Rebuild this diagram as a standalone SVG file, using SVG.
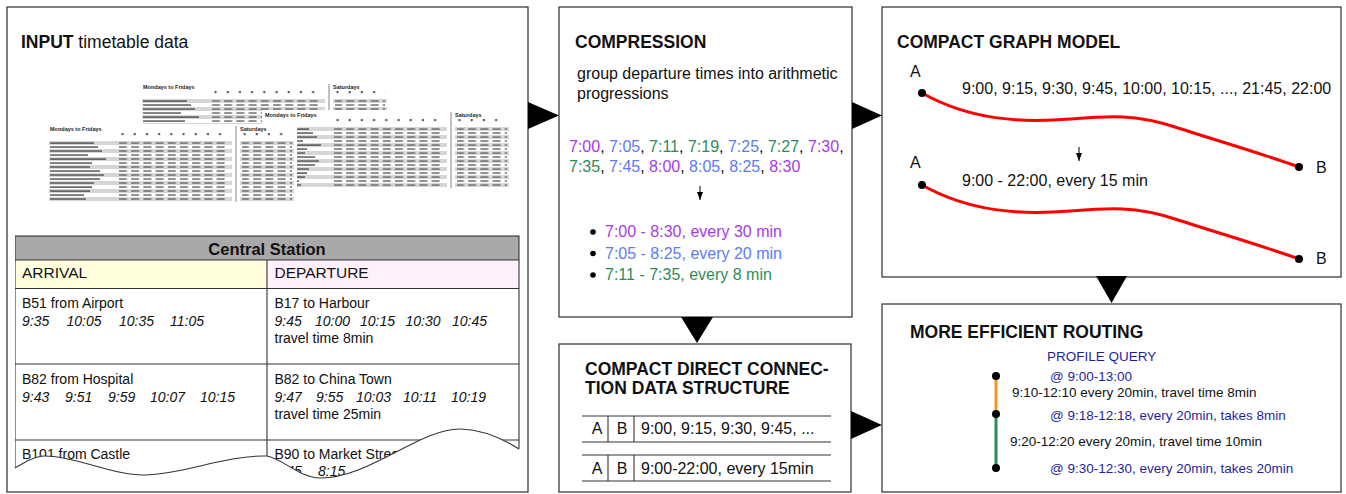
<svg xmlns="http://www.w3.org/2000/svg" xmlns:xlink="http://www.w3.org/1999/xlink" width="1346" height="494" viewBox="0 0 1346 494">
<style>
.panel{fill:#fff;stroke:#3c3c3c;stroke-width:1.3}
.title{font-family:"Liberation Sans",Arial,sans-serif;font-weight:bold;font-size:17.5px;fill:#111}
.t{font-family:"Liberation Sans",Arial,sans-serif;font-size:16px;fill:#111}
.s{font-family:"Liberation Sans",Arial,sans-serif;font-size:14px;fill:#111}
.i{font-style:italic}
.r{font-family:"Liberation Sans",Arial,sans-serif;font-size:13.5px;fill:#111}
.q{fill:#1f1f9e}
.p{fill:#a83ae6}
.b{fill:#5b7cf5}
.g{fill:#2e8b57}
.tth{font-family:"Liberation Sans",Arial,sans-serif;font-size:5.5px;font-weight:bold;fill:#222}
.line{stroke:#333;stroke-width:1.1;fill:none}
.red{stroke:#ff0000;stroke-width:3;fill:none}
.big{fill:#000}
</style>
<defs>
<marker id="ah" viewBox="0 0 8 6" refX="8" refY="3" markerWidth="8" markerHeight="6" markerUnits="userSpaceOnUse" orient="auto">
<path d="M0,0 L8,3 L0,6 Z" fill="#000"/>
</marker>
<pattern id="ttrows" patternUnits="userSpaceOnUse" x="0" y="10" width="260" height="8"><rect width="260" height="4" fill="#d6d6d6"/></pattern>
<pattern id="ttcells" patternUnits="userSpaceOnUse" x="68" y="10" width="12.2" height="4"><rect x="1" y="1.3" width="8" height="1.5" fill="#6e6e6e"/></pattern>
<pattern id="ttmarks" patternUnits="userSpaceOnUse" x="68" y="2" width="12.2" height="8"><rect x="3.5" y="0" width="2" height="2.2" fill="#555"/></pattern>
<g id="tt">
<rect x="-3" y="-7" width="250" height="80" fill="#fff"/>
<text class="tth" x="0" y="0">Mondays to Fridays</text>
<text class="tth" x="190" y="0">Saturdays</text>
<rect x="68" y="2" width="110" height="3" fill="url(#ttmarks)"/>
<rect x="192" y="2" width="50" height="3" fill="url(#ttmarks)"/>
<rect x="-1" y="10" width="183" height="60" fill="url(#ttrows)"/>
<rect x="190" y="10" width="54" height="60" fill="url(#ttrows)"/>
<line x1="186" y1="-5" x2="186" y2="71" stroke="#666" stroke-width="0.8"/>
<g fill="#5a5a5a">
<rect x="0" y="11.3" width="44" height="1.6"/><rect x="0" y="15.3" width="48" height="1.5"/><rect x="0" y="19.3" width="52" height="1.5"/><rect x="0" y="23.3" width="38" height="1.5"/><rect x="0" y="27.3" width="56" height="1.6"/><rect x="0" y="31.3" width="42" height="1.5"/><rect x="0" y="35.3" width="40" height="1.5"/><rect x="0" y="39.3" width="50" height="1.5"/><rect x="0" y="43.3" width="54" height="1.5"/><rect x="0" y="47.3" width="50" height="1.5"/><rect x="0" y="51.3" width="44" height="1.5"/><rect x="0" y="55.3" width="42" height="1.6"/><rect x="0" y="59.3" width="40" height="1.6"/><rect x="0" y="63.3" width="34" height="1.5"/><rect x="0" y="67.3" width="36" height="1.5"/>
</g>
<rect x="68" y="10" width="110" height="60" fill="url(#ttcells)"/>
<rect x="192" y="10" width="50" height="60" fill="url(#ttcells)"/>
</g>
<clipPath id="tear">
<path d="M15,235 H520 V449 C505,440 485,430 461,429 C420,428 370,478 320,478 C300,478 285,460 267,456 C225,455 185,474 145,475 C115,476 75,456 45,456 C35,456 25,462 15,468 Z"/>
</clipPath>
</defs>

<g id="input">
<rect class="panel" x="7" y="7" width="521" height="485"/>
<text class="title" x="21" y="48">INPUT<tspan font-weight="normal"> timetable data</tspan></text>
<use xlink:href="#tt" x="143" y="89"/>
<use xlink:href="#tt" x="265" y="117"/>
<use xlink:href="#tt" x="50" y="131"/>
<g id="central-station" clip-path="url(#tear)">
<rect x="15" y="236" width="504" height="24" fill="#a9a9a9"/>
<rect x="15" y="260" width="252" height="28.5" fill="#ffffde"/>
<rect x="267" y="260" width="252" height="28.5" fill="#fff1fc"/>
<rect class="line" x="15" y="236" width="504" height="260"/>
<line class="line" x1="15" y1="260" x2="519" y2="260"/>
<line class="line" x1="15" y1="288.5" x2="519" y2="288.5"/>
<line class="line" x1="15" y1="364" x2="519" y2="364"/>
<line class="line" x1="15" y1="440" x2="519" y2="440"/>
<line class="line" x1="267" y1="260" x2="267" y2="496"/>
<text x="267" y="255" text-anchor="middle" font-family="Liberation Sans, Arial, sans-serif" font-weight="bold" font-size="16.5" fill="#111">Central Station</text>
<text x="22" y="278" font-family="Liberation Sans, Arial, sans-serif" font-size="15.5" fill="#111">ARRIVAL</text>
<text x="274.5" y="278" font-family="Liberation Sans, Arial, sans-serif" font-size="15.5" fill="#111">DEPARTURE</text>
<text class="s" x="22" y="308">B51 from Airport</text>
<text class="s i"><tspan x="22" y="325.5">9:35</tspan><tspan x="66.5" y="325.5">10:05</tspan><tspan x="119" y="325.5">10:35</tspan><tspan x="170" y="325.5">11:05</tspan></text>
<text class="s" x="274.5" y="308">B17 to Harbour</text>
<text class="s i"><tspan x="274.5" y="325.5">9:45</tspan><tspan x="315" y="325.5">10:00</tspan><tspan x="360" y="325.5">10:15</tspan><tspan x="405.5" y="325.5">10:30</tspan><tspan x="452" y="325.5">10:45</tspan></text>
<text class="s" x="274.5" y="343">travel time 8min</text>
<text class="s" x="22" y="384">B82 from Hospital</text>
<text class="s i"><tspan x="22" y="401.5">9:43</tspan><tspan x="65" y="401.5">9:51</tspan><tspan x="108" y="401.5">9:59</tspan><tspan x="150" y="401.5">10:07</tspan><tspan x="200" y="401.5">10:15</tspan></text>
<text class="s" x="274.5" y="384">B82 to China Town</text>
<text class="s i"><tspan x="274.5" y="401.5">9:47</tspan><tspan x="316" y="401.5">9:55</tspan><tspan x="356" y="401.5">10:03</tspan><tspan x="403" y="401.5">10:11</tspan><tspan x="451" y="401.5">10:19</tspan></text>
<text class="s" x="274.5" y="419">travel time 25min</text>
<text class="s" x="22" y="459">B101 from Castle</text>
<text class="s" x="274.5" y="459">B90 to Market Street</text>
<text class="s i"><tspan x="274.5" y="476">7:45</tspan><tspan x="318" y="476">8:15</tspan></text>
</g>
<path class="line" d="M519,449 C505,440 485,430 461,429 C420,428 370,478 320,478 C300,478 285,460 267,456 C225,455 185,474 145,475 C115,476 75,456 45,456 C35,456 25,462 15,468"/>
</g>

<g id="compression">
<rect class="panel" x="559" y="7" width="293" height="310"/>
<text class="title" x="575" y="48">COMPRESSION</text>
<text class="t" x="577" y="79">group departure times into arithmetic</text>
<text class="t" x="577" y="99">progressions</text>
<text class="t" font-size="15.5" x="569" y="152"><tspan class="p">7:00</tspan>, <tspan class="b">7:05</tspan>, <tspan class="g">7:11</tspan>, <tspan class="g">7:19</tspan>, <tspan class="b">7:25</tspan>, <tspan class="g">7:27</tspan>, <tspan class="p">7:30</tspan>,</text>
<text class="t" font-size="15.5" x="569" y="172"><tspan class="g">7:35</tspan>, <tspan class="b">7:45</tspan>, <tspan class="p">8:00</tspan>, <tspan class="b">8:05</tspan>, <tspan class="b">8:25</tspan>, <tspan class="p">8:30</tspan></text>
<line x1="700" y1="186" x2="700" y2="200" stroke="#000" stroke-width="1" marker-end="url(#ah)"/>
<circle cx="593" cy="232" r="2.8" fill="#000"/>
<circle cx="593" cy="253.5" r="2.8" fill="#000"/>
<circle cx="593" cy="275" r="2.8" fill="#000"/>
<text class="t p" font-size="15.5" x="605" y="237">7:00 - 8:30, every 30 min</text>
<text class="t b" font-size="15.5" x="605" y="258.5">7:05 - 8:25, every 20 min</text>
<text class="t g" font-size="15.5" x="605" y="280">7:11 - 7:35, every 8 min</text>
</g>

<g id="cdc">
<rect class="panel" x="559" y="344" width="292" height="148"/>
<text class="title" x="585" y="375">COMPACT DIRECT CONNEC-</text>
<text class="title" x="585" y="394">TION DATA STRUCTURE</text>
<line class="line" x1="582" y1="416" x2="831" y2="416"/>
<line class="line" x1="582" y1="442" x2="831" y2="442"/>
<line class="line" x1="582" y1="455" x2="831" y2="455"/>
<line class="line" x1="582" y1="481" x2="831" y2="481"/>
<line class="line" x1="608" y1="416" x2="608" y2="442"/>
<line class="line" x1="634" y1="416" x2="634" y2="442"/>
<line class="line" x1="608" y1="455" x2="608" y2="481"/>
<line class="line" x1="634" y1="455" x2="634" y2="481"/>
<text class="t" font-size="15.5" x="597" y="434" text-anchor="middle">A</text>
<text class="t" font-size="15.5" x="622" y="434" text-anchor="middle">B</text>
<text class="t" font-size="15.5" x="641" y="434">9:00, 9:15, 9:30, 9:45, ...</text>
<text class="t" font-size="15.5" x="597" y="474" text-anchor="middle">A</text>
<text class="t" font-size="15.5" x="622" y="474" text-anchor="middle">B</text>
<text class="t" font-size="15.5" x="641" y="474">9:00-22:00, every 15min</text>
</g>

<g id="graph">
<rect class="panel" x="882" y="7" width="459" height="270"/>
<text class="title" x="897" y="48">COMPACT GRAPH MODEL</text>
<text class="t" x="910" y="77">A</text>
<text class="t" x="962" y="94">9:00, 9:15, 9:30, 9:45, 10:00, 10:15, ..., 21:45, 22:00</text>
<path class="red" d="M922,93 C970,120 1020,123 1070,119 C1110,116 1135,114 1175,127 C1215,140 1260,153 1299,167"/>
<circle cx="922" cy="93" r="4" fill="#000"/>
<circle cx="1299" cy="167" r="4" fill="#000"/>
<text class="t" x="1316" y="173">B</text>
<line x1="1079" y1="147" x2="1079" y2="161" stroke="#000" stroke-width="1" marker-end="url(#ah)"/>
<text class="t" x="910" y="168">A</text>
<text class="t" x="962" y="186">9:00 - 22:00, every 15 min</text>
<path class="red" d="M922,185 C970,212 1020,215 1070,211 C1110,208 1135,206 1175,219 C1215,232 1260,245 1299,259"/>
<circle cx="922" cy="185" r="4" fill="#000"/>
<circle cx="1299" cy="259" r="4" fill="#000"/>
<text class="t" x="1316" y="264">B</text>
</g>

<g id="routing">
<rect class="panel" x="882" y="304" width="459" height="188"/>
<text class="title" x="910" y="338">MORE EFFICIENT ROUTING</text>
<text class="r q" x="1047" y="361">PROFILE QUERY</text>
<line x1="996" y1="376" x2="996" y2="414" stroke="#f7941d" stroke-width="3"/>
<line x1="996" y1="414" x2="996" y2="468" stroke="#2e8b57" stroke-width="3"/>
<circle cx="996" cy="376" r="4" fill="#000"/>
<circle cx="996" cy="414" r="4" fill="#000"/>
<circle cx="996" cy="468" r="4" fill="#000"/>
<text class="r q" x="1050" y="381">@ 9:00-13:00</text>
<text class="r" x="1012" y="397">9:10-12:10 every 20min, travel time 8min</text>
<text class="r q" x="1050" y="420">@ 9:18-12:18, every 20min, takes 8min</text>
<text class="r" x="1010" y="446">9:20-12:20 every 20min, travel time 10min</text>
<text class="r q" x="1050" y="473">@ 9:30-12:30, every 20min, takes 20min</text>
</g>

<g id="connectors">
<polygon class="big" points="528,102 559,115.5 528,129"/>
<polygon class="big" points="852,102 882,115.5 852,129"/>
<polygon class="big" points="1096,276 1127,276 1111.5,303"/>
<polygon class="big" points="681,317 713,317 697,343"/>
<polygon class="big" points="851,411 882,425 851,439"/>
</g>
</svg>
